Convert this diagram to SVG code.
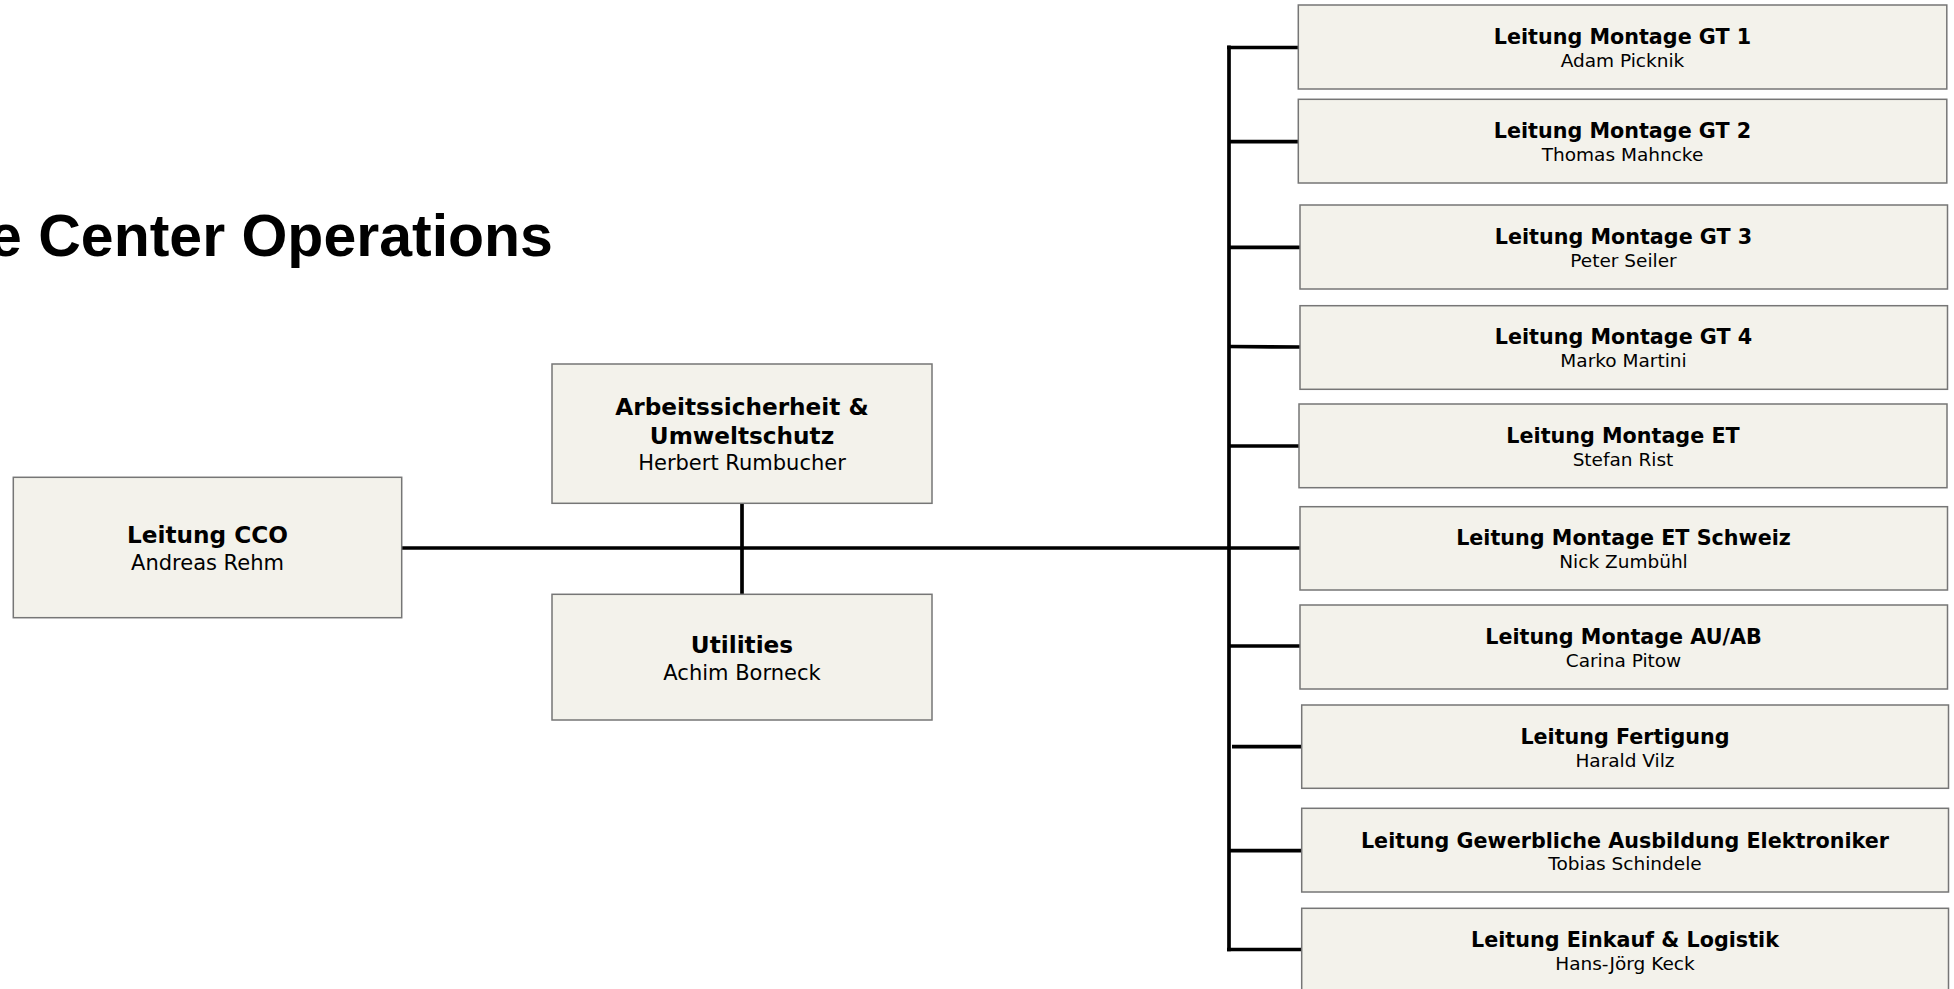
<svg xmlns="http://www.w3.org/2000/svg" width="1954" height="989" viewBox="0 0 1954 989">
<style>
.box{fill:#f3f2eb;stroke:#767676;stroke-width:1.5}
.b{font-family:"DejaVu Sans",Verdana,sans-serif;font-weight:bold;fill:#000;text-anchor:middle}
.r{font-family:"DejaVu Sans",Verdana,sans-serif;fill:#000;text-anchor:middle}
.bb{font-size:23.2px}
.big{font-size:21px}
.bs{font-size:20.7px}
.sm{font-size:18.5px}
.con{stroke:#000;stroke-width:3.7;fill:none}
.title{font-family:"Liberation Sans",Arial,sans-serif;font-weight:bold;font-size:59px;fill:#000}
</style>
<rect width="1954" height="989" fill="#fff"/>
<text class="title" x="-11" y="256">e Center Operations</text>
<g id="connectors">
<line class="con" x1="402" y1="548" x2="1300" y2="548"/>
<line class="con" x1="742" y1="503" x2="742" y2="594"/>
<line class="con" x1="1229" y1="45.5" x2="1229" y2="951.3"/>
<line class="con" x1="1227" y1="47.5" x2="1298" y2="47.5"/>
<line class="con" x1="1229" y1="141.7" x2="1298" y2="141.7"/>
<line class="con" x1="1229" y1="247.3" x2="1300" y2="247.3"/>
<line class="con" x1="1229" y1="346.5" x2="1300" y2="347"/>
<line class="con" x1="1229" y1="446" x2="1299" y2="446"/>
<line class="con" x1="1229" y1="646" x2="1300" y2="646"/>
<line class="con" x1="1232" y1="746.7" x2="1302" y2="746.7"/>
<line class="con" x1="1229" y1="850.7" x2="1302" y2="850.7"/>
<line class="con" x1="1227" y1="949.5" x2="1302" y2="949.5"/>
</g>
<g id="n-cco">
<rect class="box" x="13.3" y="477.3" width="388.4" height="140.4"/>
<text class="b bb" x="207.5" y="543">Leitung CCO</text>
<text class="r big" x="207.5" y="570">Andreas Rehm</text>
</g>
<g id="n-arbeit">
<rect class="box" x="552" y="364" width="380" height="139.3"/>
<text class="b bb" x="742" y="415">Arbeitssicherheit &amp;</text>
<text class="b bb" x="742" y="444">Umweltschutz</text>
<text class="r big" x="742" y="470">Herbert Rumbucher</text>
</g>
<g id="n-util">
<rect class="box" x="552" y="594.3" width="380" height="125.7"/>
<text class="b bb" x="742" y="653">Utilities</text>
<text class="r big" x="742" y="680">Achim Borneck</text>
</g>
<g id="n-gt1">
<rect class="box" x="1298.3" y="5" width="648.5" height="84"/>
<text class="b bs" x="1622.5" y="43.5">Leitung Montage GT 1</text>
<text class="r sm" x="1622.5" y="66.5">Adam Picknik</text>
</g>
<g id="n-gt2">
<rect class="box" x="1298.3" y="99.3" width="648.5" height="83.7"/>
<text class="b bs" x="1622.5" y="138">Leitung Montage GT 2</text>
<text class="r sm" x="1622.5" y="161">Thomas Mahncke</text>
</g>
<g id="n-gt3">
<rect class="box" x="1300" y="205" width="647.5" height="84"/>
<text class="b bs" x="1623.5" y="243.5">Leitung Montage GT 3</text>
<text class="r sm" x="1623.5" y="266.5">Peter Seiler</text>
</g>
<g id="n-gt4">
<rect class="box" x="1300" y="305.7" width="647.5" height="83.6"/>
<text class="b bs" x="1623.5" y="344">Leitung Montage GT 4</text>
<text class="r sm" x="1623.5" y="367">Marko Martini</text>
</g>
<g id="n-et">
<rect class="box" x="1299" y="404" width="648" height="83.7"/>
<text class="b bs" x="1623" y="442.5">Leitung Montage ET</text>
<text class="r sm" x="1623" y="465.5">Stefan Rist</text>
</g>
<g id="n-ets">
<rect class="box" x="1300" y="506.7" width="647.5" height="83.3"/>
<text class="b bs" x="1623.5" y="545">Leitung Montage ET Schweiz</text>
<text class="r sm" x="1623.5" y="568">Nick Zumbühl</text>
</g>
<g id="n-auab">
<rect class="box" x="1300" y="605" width="647.5" height="84"/>
<text class="b bs" x="1623.5" y="643.5">Leitung Montage AU/AB</text>
<text class="r sm" x="1623.5" y="666.5">Carina Pitow</text>
</g>
<g id="n-fert">
<rect class="box" x="1301.7" y="705" width="646.8" height="83.3"/>
<text class="b bs" x="1625" y="743.5">Leitung Fertigung</text>
<text class="r sm" x="1625" y="766.5">Harald Vilz</text>
</g>
<g id="n-gew">
<rect class="box" x="1301.7" y="808.3" width="646.8" height="83.7"/>
<text class="b bs" x="1625" y="847.5">Leitung Gewerbliche Ausbildung Elektroniker</text>
<text class="r sm" x="1625" y="870">Tobias Schindele</text>
</g>
<g id="n-eink">
<rect class="box" x="1301.7" y="908.3" width="646.8" height="84"/>
<text class="b bs" x="1625" y="947">Leitung Einkauf &amp; Logistik</text>
<text class="r sm" x="1625" y="970">Hans-Jörg Keck</text>
</g>
</svg>
